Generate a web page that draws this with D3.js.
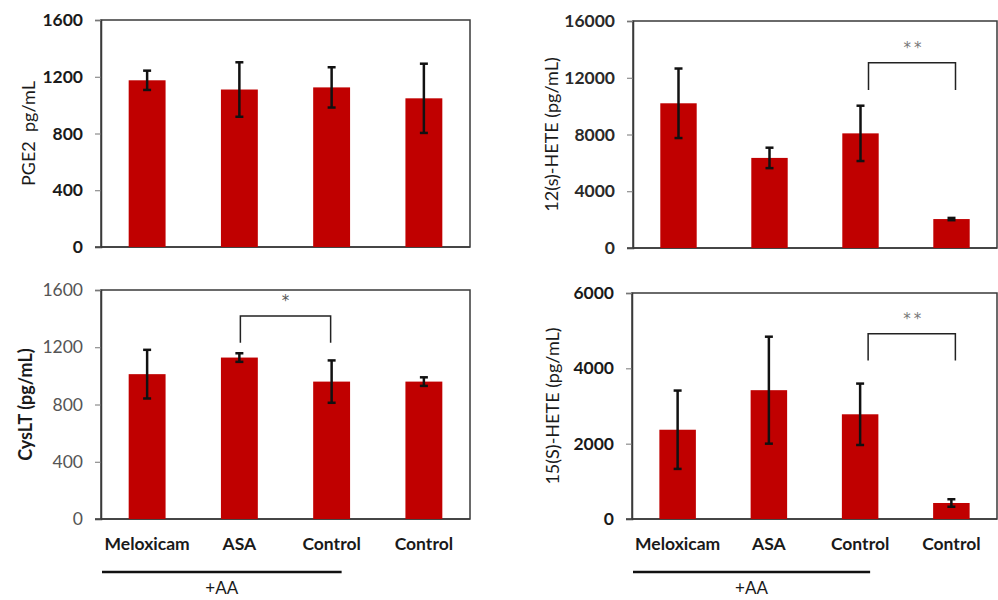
<!DOCTYPE html>
<html>
<head>
<meta charset="utf-8">
<script src="https://cdn.jsdelivr.net/npm/d3@7"></script>
<style>
  body { margin: 0; background: #fff; }
  svg { display: block; font-family: Lato, "Open Sans", sans-serif; }
</style>
</head>
<body>
<div id="chart"></div>
<script>
// data (mean and error half-width)
const groups = ["Meloxicam", "ASA", "Control", "Control"];
const aaGroups = 3; // first three groups got +AA

const pge2Mean = [1175, 1110, 1125, 1048];
const pge2Err = [68, 192, 142, 244];

const hete12Mean = [10200, 6350, 8080, 2040];
const hete12Err = [2450, 720, 1950, 80];

const cysltMean = [1012, 1128, 960, 960];
const cysltErr = [170, 30, 148, 30];

const hete15Mean = [2370, 3420, 2780, 425];
const hete15Err = [1040, 1420, 815, 100];

const pge2Ticks = [0, 400, 800, 1200, 1600];
const hete12Ticks = [0, 4000, 8000, 12000, 16000];
const cysltTicks = [0, 400, 800, 1200, 1600];
const hete15Ticks = [0, 2000, 4000, 6000];

const barColor = "#c00000";
const frameColor = "#3a3a3a";

const svg = d3.select("#chart").append("svg")
    .attr("width", 998)
    .attr("height", 600);

const panels = [
  {mean: pge2Mean, err: pge2Err, ticks: pge2Ticks, title: "PGE2\u00a0\u00a0pg/mL",
   box: {l: 101, r: 470, t: 20, b: 247}, titleX: 28,
   tickWeight: "bold", tickColor: "#1a1a1a", titleWeight: "normal", xLabels: false},
  {mean: hete12Mean, err: hete12Err, ticks: hete12Ticks, title: "12(s)-HETE (pg/mL)",
   box: {l: 633, r: 997, t: 21, b: 248}, titleX: 551,
   tickWeight: "bold", tickColor: "#2a2a2a", titleWeight: "normal", xLabels: false,
   sig: {from: 2, to: 3, top: 13050, foot: 11130, label: "**", dl: 8, dr: 4}},
  {mean: cysltMean, err: cysltErr, ticks: cysltTicks, title: "CysLT (pg/mL)",
   box: {l: 101, r: 470, t: 290, b: 519}, titleX: 25,
   tickWeight: "normal", tickColor: "#555", titleWeight: "bold", xLabels: true,
   sig: {from: 1, to: 2, top: 1418, foot: 1232, label: "*", dl: 1, dr: -1}},
  {mean: hete15Mean, err: hete15Err, ticks: hete15Ticks, title: "15(S)-HETE (pg/mL)",
   box: {l: 632, r: 997, t: 293, b: 519}, titleX: 552,
   tickWeight: "bold", tickColor: "#1a1a1a", titleWeight: "normal", xLabels: true,
   sig: {from: 2, to: 3, top: 4920, foot: 4210, label: "**", dl: 8, dr: 4}}
];

panels.forEach(drawPanel);

function drawPanel(p) {
  const b = p.box;
  const g = svg.append("g");

  const x = d3.scaleBand()
      .domain(d3.range(groups.length))
      .range([b.l, b.r])
      .paddingInner(0.6)
      .paddingOuter(0.3);

  const y = d3.scaleLinear()
      .domain([0, d3.max(p.ticks)])
      .range([b.b, b.t]);

  // frame (top + right)
  g.append("rect")
      .attr("x", b.l).attr("y", b.t)
      .attr("width", b.r - b.l).attr("height", b.b - b.t)
      .attr("fill", "none")
      .attr("stroke", frameColor)
      .attr("stroke-width", 1.5);

  // y axis
  const yAxis = g.append("g")
      .attr("transform", `translate(${b.l},0)`)
      .call(d3.axisLeft(y).tickValues(p.ticks).tickSize(6).tickPadding(12).tickFormat(d3.format("d")));
  yAxis.select(".domain").attr("stroke", frameColor).attr("stroke-width", 1.5);
  yAxis.selectAll(".tick line").attr("stroke", "#777");
  yAxis.selectAll("text")
      .attr("font-size", 17.5)
      .attr("font-weight", p.tickWeight)
      .attr("fill", p.tickColor)
      .attr("font-family", "Lato, sans-serif");

  // x axis baseline
  g.append("line")
      .attr("x1", b.l - 6).attr("x2", b.r)
      .attr("y1", y(0)).attr("y2", y(0))
      .attr("stroke", frameColor)
      .attr("stroke-width", 1.5);

  // y title
  g.append("text")
      .attr("transform", `translate(${p.titleX},${(b.t + b.b) / 2}) rotate(-90)`)
      .attr("text-anchor", "middle")
      .attr("dominant-baseline", "central")
      .attr("font-size", 18)
      .attr("font-weight", p.titleWeight)
      .attr("fill", "#1a1a1a")
      .text(p.title);

  const rows = groups.map((name, i) => ({i, name, mean: p.mean[i], err: p.err[i]}));

  // bars
  g.selectAll("rect.bar")
    .data(rows)
    .enter()
    .append("rect")
    .attr("class", "bar")
    .attr("x", d => x(d.i))
    .attr("y", d => y(d.mean))
    .attr("width", x.bandwidth())
    .attr("height", d => y(0) - y(d.mean))
    .attr("fill", barColor);

  // error bars
  const eb = g.selectAll("g.err")
    .data(rows)
    .enter()
    .append("g")
    .attr("class", "err")
    .attr("stroke", "#111")
    .attr("stroke-width", 2.5);
  const cx = d => x(d.i) + x.bandwidth() / 2;
  eb.append("line")
    .attr("x1", cx).attr("x2", cx)
    .attr("y1", d => y(d.mean + d.err))
    .attr("y2", d => y(d.mean - d.err));
  eb.append("line")
    .attr("x1", d => cx(d) - 4).attr("x2", d => cx(d) + 4)
    .attr("y1", d => y(d.mean + d.err)).attr("y2", d => y(d.mean + d.err));
  eb.append("line")
    .attr("x1", d => cx(d) - 4).attr("x2", d => cx(d) + 4)
    .attr("y1", d => y(d.mean - d.err)).attr("y2", d => y(d.mean - d.err));

  // significance bracket
  if (p.sig) {
    const s = p.sig;
    const x1 = x(s.from) + x.bandwidth() / 2 + s.dl;
    const x2 = x(s.to) + x.bandwidth() / 2 + s.dr;
    g.append("path")
      .attr("d", `M${x1},${y(s.foot)}V${y(s.top)}H${x2}V${y(s.foot)}`)
      .attr("fill", "none")
      .attr("stroke", "#222")
      .attr("stroke-width", 1.5);
    g.append("text")
      .attr("x", (x1 + x2) / 2 + (s.label.length > 1 ? 2 : 0))
      .attr("y", y(s.top) - 15)
      .attr("text-anchor", "middle")
      .attr("dominant-baseline", "central")
      .attr("font-family", "DejaVu Sans, sans-serif")
      .attr("font-size", 15)
      .attr("fill", s.label === "*" ? "#555" : "#777")
      .attr("letter-spacing", s.label.length > 1 ? 3 : 0)
      .text(s.label);
  }

  // category labels + "+AA" group line
  if (p.xLabels) {
    g.selectAll("text.cat")
      .data(rows)
      .enter()
      .append("text")
      .attr("class", "cat")
      .attr("x", cx)
      .attr("y", b.b + 31)
      .attr("text-anchor", "middle")
      .attr("font-size", 17.5)
      .attr("font-weight", "bold")
      .attr("fill", "#1a1a1a")
      .text(d => d.name);

    const lx1 = b.l + 1;
    const lx2 = x(aaGroups - 1) + x.bandwidth() / 2 + 10;
    g.append("line")
      .attr("x1", lx1).attr("x2", lx2)
      .attr("y1", 572).attr("y2", 572)
      .attr("stroke", "#111")
      .attr("stroke-width", 2.5);
    g.append("text")
      .attr("x", (lx1 + lx2) / 2)
      .attr("y", 594)
      .attr("text-anchor", "middle")
      .attr("font-size", 17)
      .attr("fill", "#1a1a1a")
      .text("+AA");
  }
}
</script>
</body>
</html>
